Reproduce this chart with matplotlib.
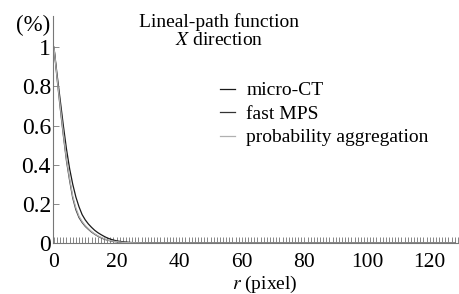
import matplotlib

matplotlib.use("Agg")
import matplotlib.pyplot as plt
from matplotlib.ticker import MultipleLocator

plt.rcParams["font.family"] = ["Liberation Serif", "DejaVu Serif"]
plt.rcParams["mathtext.fontset"] = "stix"

# lineal-path function, X direction
r = [0, 1, 2, 3, 4, 5, 6, 7, 8, 9, 10, 11, 12, 13, 14, 15, 16, 17, 18, 19, 20,
     22, 25, 30, 40, 60, 128]
micro_ct = [1.0, 0.86, 0.73, 0.60, 0.48, 0.38, 0.30, 0.235, 0.185, 0.145, 0.118,
            0.097, 0.080, 0.065, 0.053, 0.043, 0.034, 0.026, 0.020, 0.015, 0.011,
            0.006, 0.002, 0.0, 0.0, 0.0, 0.0]
fast_mps = [1.0, 0.84, 0.69, 0.55, 0.42, 0.32, 0.23, 0.17, 0.13, 0.105, 0.085,
            0.070, 0.056, 0.045, 0.035, 0.027, 0.020, 0.015, 0.011, 0.008, 0.006,
            0.003, 0.001, 0.0, 0.0, 0.0, 0.0]
prob_agg = [1.0, 0.845, 0.70, 0.56, 0.43, 0.33, 0.24, 0.18, 0.137, 0.11, 0.089,
            0.073, 0.059, 0.047, 0.037, 0.029, 0.022, 0.016, 0.012, 0.009, 0.007,
            0.003, 0.001, 0.0, 0.0, 0.0, 0.0]

y_ticks = [0, 0.2, 0.4, 0.6, 0.8, 1]
y_labels = ["0", "0.2", "0.4", "0.6", "0.8", "1"]
x_ticks = [0, 20, 40, 60, 80, 100, 120]

fig = plt.figure(figsize=(4.59, 2.94), dpi=100)
ax = fig.add_axes([0.1155, 0.1735, 0.882, 0.772])

ax.plot(r, micro_ct, color="#1a1a1a", lw=0.9, label="micro-CT")
ax.plot(r, fast_mps, color="#333333", lw=0.9, label="fast MPS")
ax.plot(r, prob_agg, color="#b0b0b0", lw=0.9, label="probability aggregation")

ax.set_xlim(-0.3, 129)
ax.set_ylim(0, 1.16)
ax.set_yticks(y_ticks)
ax.set_yticklabels(y_labels)
ax.set_xticks(x_ticks)
ax.xaxis.set_minor_locator(MultipleLocator(1))

for side in ("top", "right"):
    ax.spines[side].set_visible(False)
for side in ("left", "bottom"):
    ax.spines[side].set_color("#777777")
    ax.spines[side].set_linewidth(0.8)

ax.tick_params(axis="both", which="major", direction="in", length=4, width=0.6,
               color="#777777")
ax.tick_params(axis="y", labelsize=17, pad=1.5)
ax.tick_params(axis="x", labelsize=15.5, pad=7)
ax.tick_params(axis="x", which="minor", direction="in", length=4, width=0.5,
               color="#555555")

ax.text(-0.007, 1.112, "(%)", transform=ax.get_yaxis_transform(), ha="right",
        va="center", fontsize=16.5)
fig.text(265 / 459, 1 - 284 / 294, "$r$ (pixel)", ha="center", va="center",
         fontsize=14)

ax.text(0.41, 0.974, "Lineal-path function", transform=ax.transAxes,
        ha="center", va="center", fontsize=14)
ax.text(0.41, 0.894, "$X$ direction", transform=ax.transAxes,
        ha="center", va="center", fontsize=14)

ax.legend(loc="upper left", bbox_to_anchor=(0.412, 0.71), frameon=False,
          fontsize=14, handlelength=0.77, handletextpad=0.6, labelspacing=0.3,
          borderpad=0, borderaxespad=0)

fig.savefig("out.png", dpi=100)
